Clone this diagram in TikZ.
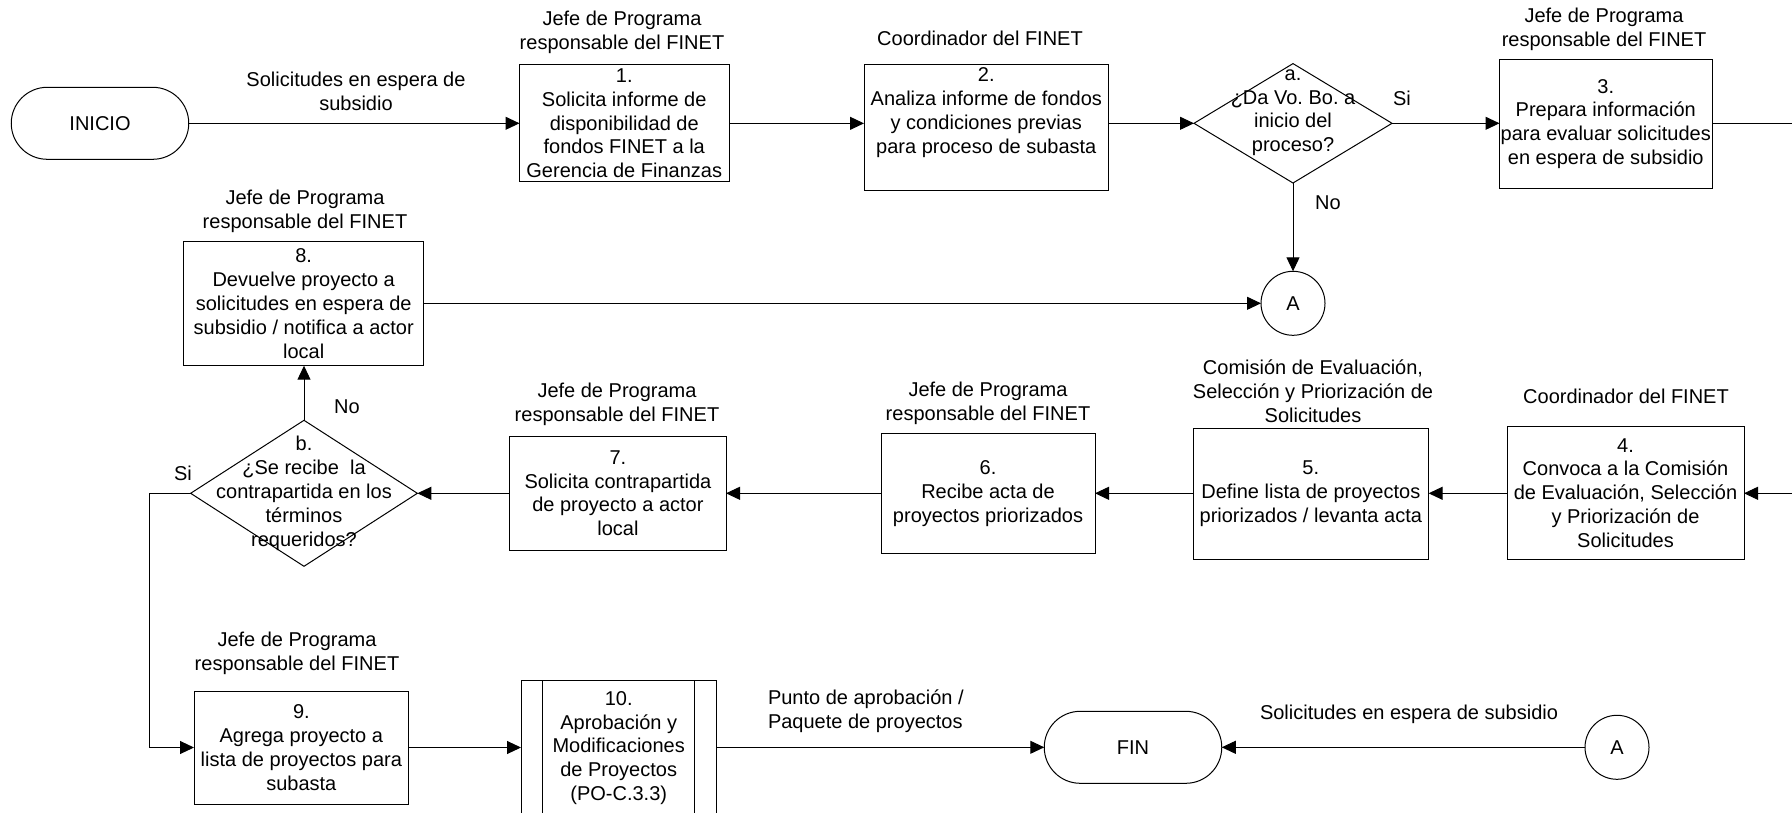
\documentclass[tikz,border=0pt]{standalone}
\usepackage{fontspec}
\setmainfont{Liberation Sans}
\usetikzlibrary{shapes.geometric,shapes.misc,arrows.meta}
\frenchspacing
\begin{document}
\begin{tikzpicture}[x=0.5pt,y=-0.5pt,
  every node/.style={font=\fontsize{10}{11.9}\selectfont, inner sep=0pt, outer sep=0pt},
  box/.style={draw, rectangle, align=center, line width=0.5pt},
  dia/.style={draw, diamond, line width=0.5pt},
  term/.style={draw, rounded rectangle, minimum width=88.75pt, minimum height=36pt, line width=0.5pt},
  conn/.style={draw, circle, minimum size=32pt, line width=0.5pt},
  lbl/.style={align=center},
  arr/.style={line width=0.5pt, -{Triangle[length=7pt,width=6.5pt]}},
  ln/.style={line width=0.5pt},
]
\useasboundingbox (0,0) rectangle (1792,813);

% ---- row 1
\node[term] (ini) at (100,123.3) {INICIO};
\node[box, minimum width=104.75pt, minimum height=58.35pt] (b1) at (624.25,123.35)
  {1.\\Solicita informe de\\disponibilidad de\\fondos FINET a la\\Gerencia de Finanzas};
\node[box, minimum width=122.3pt, minimum height=62.85pt] (b2) at (986.3,127.85) {};
\node[lbl] (b2t) at (986.3,112.6) {2.\\Analiza informe de fondos\\y condiciones previas\\para proceso de subasta};
\node[dia, minimum width=99pt, minimum height=59.7pt] (da) at (1293,123.3) {};
\node[lbl] (dat) at (1293,112.6) {a.\\¿Da Vo. Bo. a\\inicio del\\proceso?};
\node[box, minimum width=106.25pt, minimum height=64.5pt] (b3) at (1605.75,123.8)
  {3.\\Prepara información\\para evaluar solicitudes\\en espera de subsidio};
\node[conn] (a1) at (1293,303.3) {A};
\coordinate (e1) at (1792,123.3);

% ---- row 2
\node[box, minimum width=120pt, minimum height=62pt] (b8) at (303.7,303.7)
  {8.\\Devuelve proyecto a\\solicitudes en espera de\\subsidio / notifica a actor\\local};
\node[box, minimum width=118.5pt, minimum height=66.65pt] (b4) at (1625.5,492.9)
  {4.\\Convoca a la Comisión\\de Evaluación, Selección\\y Priorización de\\Solicitudes};
\node[box, minimum width=117.8pt, minimum height=65.5pt] (b5) at (1310.8,493.8)
  {5.\\Define lista de proyectos\\priorizados / levanta acta};
\node[box, minimum width=107pt, minimum height=60pt] (b6) at (988,493.3)
  {6.\\Recibe acta de\\proyectos priorizados};
\node[box, minimum width=108.1pt, minimum height=57pt] (b7) at (617.9,493.2)
  {7.\\Solicita contrapartida\\de proyecto a actor\\local};
\node[dia, minimum width=113.35pt, minimum height=73pt] (db) at (304,493.3) {};
\node[lbl] (dbt) at (304,493.3) {b.\\¿Se recibe\ \ la\\contrapartida en los\\términos\\requeridos?};
\coordinate (e2) at (1792,493.3);
\coordinate (c1) at (149,493.3);

% ---- row 3
\node[box, minimum width=107.35pt, minimum height=56.5pt] (b9) at (301.35,747.5)
  {9.\\Agrega proyecto a\\lista de proyectos para\\subasta};
\node[box, minimum width=97.7pt, minimum height=68pt] (b10) at (618.7,748)
  {10.\\Aprobación y\\Modificaciones\\de Proyectos\\(PO-C.3.3)};
\draw[ln] ([xshift=10.75pt]b10.north west) -- ([xshift=10.75pt]b10.south west);
\draw[ln] ([xshift=-10.75pt]b10.north east) -- ([xshift=-10.75pt]b10.south east);
\node[term] (fin) at (1133,747.3) {FIN};
\node[conn] (a2) at (1617,747.3) {A};

% ---- role labels
\node[lbl] (r1) at (622,32.5) {Jefe de Programa\\responsable del FINET};
\node (r2) at (980,38) {Coordinador del FINET};
\node[lbl] (r3) at (1604,29.2) {Jefe de Programa\\responsable del FINET};
\node[lbl] (r8) at (305,211.5) {Jefe de Programa\\responsable del FINET};
\node[lbl] (r7) at (617,404.3) {Jefe de Programa\\responsable del FINET};
\node[lbl] (r6) at (988,403.3) {Jefe de Programa\\responsable del FINET};
\node[lbl] (r5) at (1313,391.5) {Comisión de Evaluación,\\Selección y Priorización de\\Solicitudes};
\node (r4) at (1626,396) {Coordinador del FINET};
\node[lbl] (r9) at (297,653.5) {Jefe de Programa\\responsable del FINET};

% ---- connector labels
\node[lbl] (l0) at (356,91) {Solicitudes en espera de\\subsidio};
\node (lsi1) at (1402,98) {Si};
\node (lno1) at (1328,203) {No};
\node (lno2) at (347,407) {No};
\node (lsi2) at (183,473) {Si};
\node[align=left, anchor=west] (lpunto) at (768,711) {Punto de aprobación /\\Paquete de proyectos};
\node (lsol) at (1409,714) {Solicitudes en espera de subsidio};

% ---- connectors
\draw[arr] (ini.east) -- (ini.east -| b1.west);
\draw[arr] (b1.east) -- (b1.east -| b2.west);
\draw[arr] (da.west -| b2.east) -- (da.west);
\draw[arr] (da.east) -- (da.east -| b3.west);
\draw[ln] (b3.east) -- (b3.east -| e1);
\draw[arr] (da.south) -- (a1.north);
\draw[arr] (b8.east |- a1.west) -- (a1.west);
\draw[arr] (e2) -- (e2 -| b4.east);
\draw[arr] (b4.west |- e2) -- (e2 -| b5.east);
\draw[arr] (b5.west |- e2) -- (e2 -| b6.east);
\draw[arr] (b6.west |- e2) -- (e2 -| b7.east);
\draw[arr] (b7.west |- e2) -- (db.east);
\draw[arr] (db.north) -- (db.north |- b8.south);
\draw[arr] (db.west) -- (c1) |- (b9.west);
\draw[arr] (b9.east) -- (b9.east -| b10.west);
\draw[arr] (b10.east |- fin.west) -- (fin.west);
\draw[arr] (a2.west) -- (fin.east);
\end{tikzpicture}
\end{document}
